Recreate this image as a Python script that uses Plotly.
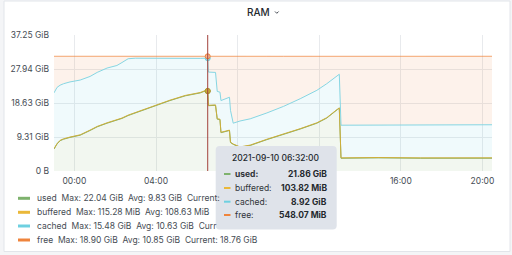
import plotly.graph_objects as go

# ---------------- data (GiB) ----------------
times = [
    "2021-09-09 23:00", "2021-09-09 23:09", "2021-09-09 23:18", "2021-09-09 23:28",
    "2021-09-09 23:47", "2021-09-10 00:17", "2021-09-10 00:46", "2021-09-10 01:07",
    "2021-09-10 01:36", "2021-09-10 02:05", "2021-09-10 02:20", "2021-09-10 02:38",
    "2021-09-10 02:59", "2021-09-10 03:43", "2021-09-10 04:12", "2021-09-10 04:41",
    "2021-09-10 05:26", "2021-09-10 06:10", "2021-09-10 06:28", "2021-09-10 06:32",
    "2021-09-10 06:34", "2021-09-10 06:55", "2021-09-10 07:00", "2021-09-10 07:08",
    "2021-09-10 07:11", "2021-09-10 07:36", "2021-09-10 07:39", "2021-09-10 07:47",
    "2021-09-10 08:07", "2021-09-10 08:37", "2021-09-10 09:26", "2021-09-10 10:15",
    "2021-09-10 11:04", "2021-09-10 11:53", "2021-09-10 12:22", "2021-09-10 12:53",
    "2021-09-10 12:59", "2021-09-10 13:04", "2021-09-10 14:53", "2021-09-10 16:57",
    "2021-09-10 18:54", "2021-09-10 20:28",
]
used = [6.00, 7.40, 8.30, 8.70, 9.19, 9.80, 11.09, 12.10, 13.09, 13.89, 14.40, 15.19,
        15.89, 17.39, 18.49, 19.29, 20.59, 21.39, 22.04, 21.86, 17.89, 17.99, 14.19, 14.09,
        10.49, 11.09, 7.79, 7.29, 6.49, 6.99, 8.59, 9.99, 11.49, 13.09, 14.49, 16.79,
        17.19, 3.49, 3.59, 3.49, 3.49, 3.50]
buffered = [0.105, 0.106, 0.104, 0.107, 0.108, 0.109, 0.110, 0.108, 0.109, 0.111, 0.112, 0.110,
            0.109, 0.108, 0.107, 0.110, 0.108, 0.106, 0.104, 0.1014, 0.108, 0.109, 0.110, 0.108,
            0.107, 0.109, 0.110, 0.108, 0.107, 0.109, 0.110, 0.108, 0.109, 0.110, 0.111, 0.109,
            0.108, 0.107, 0.108, 0.109, 0.108, 0.106]
cached = [15.30, 15.40, 15.10, 15.10, 15.10, 15.00, 14.70, 14.80, 15.00, 14.90, 15.20, 15.45,
          14.90, 13.35, 12.30, 11.40, 10.20, 9.35, 8.76, 8.92, 9.10, 8.90, 7.50, 7.40,
          8.70, 9.00, 8.70, 5.70, 7.10, 7.20, 7.20, 7.60, 8.20, 8.90, 9.30, 9.20,
          9.20, 8.95, 8.90, 9.00, 9.02, 9.06]
free = [10.02, 8.52, 7.92, 7.52, 7.02, 6.52, 5.52, 4.42, 3.22, 2.52, 1.72, 0.67,
        0.52, 0.57, 0.52, 0.62, 0.52, 0.57, 0.52, 0.535, 4.32, 4.42, 9.62, 9.82,
        12.12, 11.22, 14.82, 18.32, 17.72, 17.12, 15.52, 13.72, 11.62, 9.32, 7.52, 5.32,
        4.92, 18.87, 18.82, 18.82, 18.80, 18.76]

series_names = ["used", "buffered", "cached", "free"]
series_colors = ["#7EB26D", "#EAB839", "#6ED0E0", "#EF843C"]
line_colors = ["#7EB26D", "#cfae3a", "#86d6e3", "rgba(239,132,60,0.72)"]
series_fills = ["rgba(126,178,109,0.10)", "rgba(234,184,57,0.10)",
                "rgba(110,208,224,0.10)", "rgba(239,132,60,0.10)"]
# legend rows as visible in the reference (the rest is hidden under the tooltip)
legend_texts = [
    "used  Max: 22.04 GiB  Avg: 9.83 GiB  Current:",
    "buffered  Max: 115.28 MiB  Avg: 108.63 MiB",
    "cached  Max: 15.48 GiB  Avg: 10.63 GiB  Curr",
    "free  Max: 18.90 GiB  Avg: 10.85 GiB  Current: 18.76 GiB",
]
ytick_vals = [0, 9.3132, 18.6265, 27.9397, 37.2529]
ytick_text = ["0 B", "9.31 GiB", "18.63 GiB", "27.94 GiB", "37.25 GiB"]
xtick_vals = ["2021-09-10 00:00", "2021-09-10 04:00", "2021-09-10 08:00",
              "2021-09-10 12:00", "2021-09-10 16:00", "2021-09-10 20:00"]
xtick_text = ["00:00", "04:00", "", "", "16:00", "20:00"]  # 08:00, 12:00 under tooltip
cursor_time = "2021-09-10 06:32"
tooltip_title = "2021-09-10 06:32:00"
tooltip_labels = ["used:", "buffered:", "cached:", "free:"]
tooltip_values = ["21.86 GiB", "103.82 MiB", "8.92 GiB", "548.07 MiB"]
x_range = ["2021-09-09 23:00", "2021-09-10 20:28"]

W, H = 512, 255
L, R, T, B = 54, 492, 35, 171
FONT = "Inter, Roboto, sans-serif"
TXT = "#464c54"


def px(x):
    return (x - L) / (R - L)


def py(y):
    return (B - y) / (B - T)


def rounded_rect(x0, y0, x1, y1, r):
    return (f"M {px(x0 + r)} {py(y0)} L {px(x1 - r)} {py(y0)} "
            f"Q {px(x1)} {py(y0)} {px(x1)} {py(y0 + r)} L {px(x1)} {py(y1 - r)} "
            f"Q {px(x1)} {py(y1)} {px(x1 - r)} {py(y1)} L {px(x0 + r)} {py(y1)} "
            f"Q {px(x0)} {py(y1)} {px(x0)} {py(y1 - r)} L {px(x0)} {py(y0 + r)} "
            f"Q {px(x0)} {py(y0)} {px(x0 + r)} {py(y0)} Z")


fig = go.Figure()
series = [used, buffered, cached, free]
for name, vals, col, fc in zip(series_names, series, line_colors, series_fills):
    fig.add_trace(go.Scatter(
        x=times, y=vals, name=name, mode="lines", stackgroup="one",
        line=dict(color=col, width=1), fillcolor=fc, hoverinfo="skip",
    ))

# hover markers at cursor
ci = times.index(cursor_time)
cum = 0
mk_y = []
for vals in series:
    cum += vals[ci]
    mk_y.append(cum)
fig.add_trace(go.Scatter(
    x=[cursor_time] * 4, y=mk_y, mode="markers", showlegend=False, hoverinfo="skip",
    marker=dict(size=5, color=["#b5a04a", "#c8ad3c", "#9adbe6", "#f4b79a"],
                line=dict(width=1, color=["#a08a30", "#b09a30", "#6ED0E0", "#EF843C"])),
))

shapes = [
    # panel
    dict(type="rect", xref="paper", yref="paper", layer="below",
         x0=px(4), x1=px(510), y0=py(251.5), y1=py(1),
         fillcolor="white", line=dict(color="#e2e5ea", width=1)),
    # cursor line
    dict(type="line", xref="x", yref="paper", x0=cursor_time, x1=cursor_time,
         y0=0, y1=1, line=dict(color="#a3423b", width=1), layer="above"),
    # title chevron
    dict(type="path", xref="paper", yref="paper",
         path=f"M {px(275)} {py(11.5)} L {px(276.8)} {py(13.3)} L {px(278.6)} {py(11.5)}",
         line=dict(color="#464c54", width=1)),
    # tooltip box
    dict(type="path", xref="paper", yref="paper", layer="above",
         path=rounded_rect(215.7, 146, 336.7, 229.5, 4),
         fillcolor="#dfe3ea", line=dict(width=0)),
]
ann = []
# title
ann.append(dict(x=px(258), y=py(12), xref="paper", yref="paper", text="RAM",
                showarrow=False, font=dict(family=FONT, size=10, color="#24292e", weight=500),
                xanchor="center", yanchor="middle"))
# legend
leg_y = [198.3, 212.3, 226, 240]
for t, c, yy in zip(legend_texts, series_colors, leg_y):
    shapes.append(dict(type="rect", xref="paper", yref="paper",
                       x0=px(18), x1=px(30), y0=py(yy + 1.5), y1=py(yy - 1.5),
                       fillcolor=c, line=dict(width=0)))
    ann.append(dict(x=px(35), y=py(yy), xref="paper", yref="paper", text=t,
                    showarrow=False, font=dict(family=FONT, size=8.5, color=TXT),
                    xanchor="left", yanchor="middle"))
# tooltip content
ann.append(dict(x=px(276), y=py(158.3), xref="paper", yref="paper", text=tooltip_title,
                showarrow=False, font=dict(family=FONT, size=8.5, color="#24292e", weight=500),
                xanchor="center", yanchor="middle"))
row_y = [174, 188, 201.7, 215]
for i, (lab, val, c, yy) in enumerate(zip(tooltip_labels, tooltip_values, series_colors, row_y)):
    shapes.append(dict(type="rect", xref="paper", yref="paper", layer="above",
                       x0=px(224), x1=px(230.5), y0=py(yy + 1), y1=py(yy - 1),
                       fillcolor=c, line=dict(width=0)))
    ltxt = f"<b>{lab}</b>" if i == 0 else lab
    ann.append(dict(x=px(233), y=py(yy), xref="paper", yref="paper", text=ltxt,
                    showarrow=False, font=dict(family=FONT, size=8.5, color="#2f3439"),
                    xanchor="left", yanchor="middle"))
    ann.append(dict(x=px(329), y=py(yy), xref="paper", yref="paper", text=f"<b>{val}</b>",
                    showarrow=False, font=dict(family=FONT, size=8.5, color="#24292e"),
                    xanchor="right", yanchor="middle"))

fig.update_layout(
    width=W, height=H,
    margin=dict(l=L, r=W - R, t=T, b=H - B),
    paper_bgcolor="#f4f5f7", plot_bgcolor="rgba(0,0,0,0)",
    showlegend=False, shapes=shapes, annotations=ann,
    font=dict(family=FONT, size=8.5, color=TXT),
)
fig.update_xaxes(
    type="date", range=x_range, tickvals=xtick_vals, ticktext=xtick_text,
    showgrid=True, gridcolor="#e8eaed", gridwidth=1, zeroline=False,
    showline=False, ticks="", ticklabelstandoff=3,
    tickfont=dict(family=FONT, size=8.5, color=TXT),
)
fig.update_yaxes(
    range=[0, 37.2529], tickvals=ytick_vals, ticktext=ytick_text,
    showgrid=True, gridcolor="#e8eaed", gridwidth=1, zeroline=False,
    showline=False, ticks="", ticklabelstandoff=4,
    tickfont=dict(family=FONT, size=8.5, color=TXT),
)

fig.write_html("out.html")
